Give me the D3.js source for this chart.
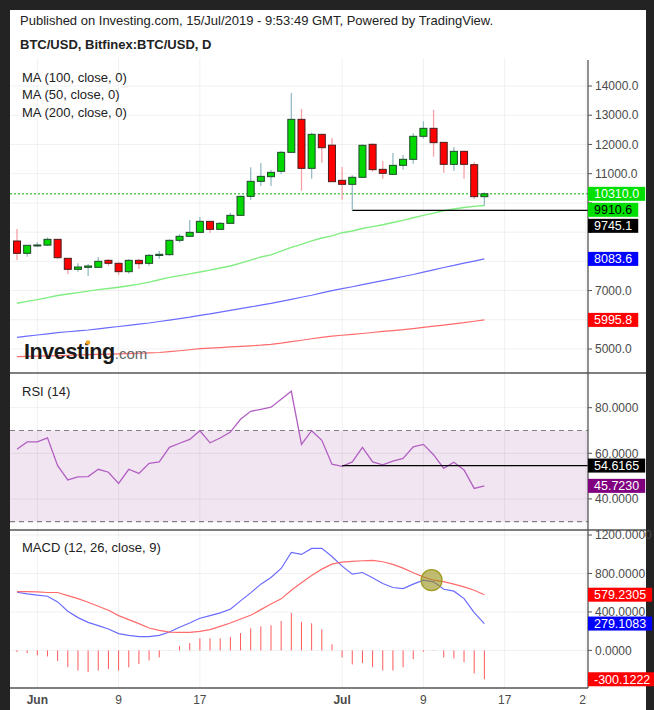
<!DOCTYPE html>
<html>
<head>
<meta charset="utf-8">
<script src="https://cdnjs.cloudflare.com/ajax/libs/d3/7.8.5/d3.min.js"></script>
<style>
  body { margin: 0; background: #232323; }
  text { font-family: "Liberation Sans", Arial, sans-serif; }
</style>
</head>
<body>
<div id="chart"></div>
<script>
// daily candles, Bitfinex BTC/USD
var dates = ["2019-05-30","2019-05-31","2019-06-01","2019-06-02","2019-06-03","2019-06-04","2019-06-05","2019-06-06",
  "2019-06-07","2019-06-08","2019-06-09","2019-06-10","2019-06-11","2019-06-12","2019-06-13","2019-06-14","2019-06-15",
  "2019-06-16","2019-06-17","2019-06-18","2019-06-19","2019-06-20","2019-06-21","2019-06-22","2019-06-23","2019-06-24",
  "2019-06-25","2019-06-26","2019-06-27","2019-06-28","2019-06-29","2019-06-30","2019-07-01","2019-07-02","2019-07-03",
  "2019-07-04","2019-07-05","2019-07-06","2019-07-07","2019-07-08","2019-07-09","2019-07-10","2019-07-11","2019-07-12",
  "2019-07-13","2019-07-14","2019-07-15"];
var open  = [8696,8274,8548,8555,8753,8103,7726,7795,7795,8034,7932,7646,8034,7932,8200,8228,8719,8856,8992,9368,9095,9300,9574,10224,10737,10897,11080,11730,12859,11182,12346,11975,10772,10635,10875,12004,11148,10977,11285,11491,12278,12551,12072,11319,11764,11308,10213];
var high  = [9107,8560,8650,8821,8760,8110,7932,7909,8148,8080,7966,8080,8080,8251,8354,8753,8935,9414,9517,9380,9346,9665,10247,11216,11365,11125,11787,13760,13213,12403,12350,12220,11228,10943,12004,12038,11434,11707,11639,12380,12791,13179,12080,11913,11790,11388,10361];
var low   = [8046,8160,8502,8525,8080,7567,7646,7498,7790,7852,7532,7578,7738,7852,8091,8194,8640,8840,8980,8981,9090,9290,9570,10098,10578,10578,10988,11720,10418,10829,11376,10720,10110,9745,10860,11069,10829,10970,11137,11342,12198,11582,11034,11103,10829,10133,9905];
var close = [8274,8548,8560,8753,8126,7726,7806,7840,8000,7932,7646,8034,7920,8205,8240,8719,8856,8992,9368,9095,9300,9574,10224,10737,10908,11045,11730,12859,11182,12346,11889,10726,10635,10875,11970,11137,11012,11285,11491,12278,12551,12061,11319,11764,11319,10213,10310];

var ma50  = [6564,6630,6690,6760,6830,6880,6930,6980,7030,7070,7115,7165,7220,7290,7370,7450,7510,7570,7635,7700,7770,7840,7940,8040,8150,8220,8350,8480,8580,8700,8800,8870,8980,9040,9125,9186,9250,9330,9400,9490,9575,9650,9730,9790,9840,9880,9910.6];
var ma100 = [5400,5440,5480,5520,5560,5590,5620,5650,5690,5730,5770,5810,5850,5890,5940,5990,6040,6090,6150,6200,6260,6320,6380,6440,6500,6560,6630,6700,6770,6840,6920,7000,7063,7130,7200,7270,7340,7410,7480,7550,7630,7710,7790,7860,7940,8010,8083.6];
var ma200 = [4737,4745,4755,4765,4775,4785,4795,4805,4815,4825,4835,4845,4855,4865,4880,4910,4940,4975,5011,5030,5050,5070,5090,5110,5130,5160,5200,5250,5300,5350,5400,5440,5470,5500,5530,5565,5600,5630,5660,5700,5740,5780,5820,5860,5900,5950,5995.8];

var rsi = [61.8,65.0,65.0,66.8,54.6,48.3,49.7,49.8,53.0,51.7,46.8,53.0,51.2,55.6,56.2,62.6,64.4,66.1,69.9,64.6,66.7,69.3,74.9,78.4,79.3,80.2,83.7,87.2,63.9,69.9,65.7,55.2,54.3,56.2,62.6,56.2,54.9,56.6,57.8,62.8,63.9,59.4,53.4,56.1,52.7,44.6,45.723];

var macd   = [605,588,574,563,504,407,341,292,257,223,174,157,143,143,157,191,240,285,334,362,390,428,515,598,689,758,852,1019,998,1061,1061,977,876,793,810,755,696,654,643,689,730,713,636,616,539,393,279.1];
var signal = [612,612,609,602,602,570,539,501,459,417,362,320,278,233,209,191,188,188,198,216,250,285,327,365,424,483,536,626,703,779,845,897,918,925,932,936,922,894,856,807,765,730,716,689,661,626,579.2];
var hist   = [-17,-28,-52,-63,-111,-174,-209,-226,-209,-195,-209,-177,-143,-104,-73,-3,45,77,125,125,125,139,181,230,250,261,306,390,296,282,219,63,-73,-146,-132,-174,-209,-209,-174,-90,-14,-4,-73,-83,-122,-240,-300.1];

var priceTicks = [5000,6000,7000,8000,9000,10000,11000,12000,13000,14000];
var rsiTicks = [40,60,80];
var macdTicks = [0,400,800,1200];
var dateTicks = ["2019-06-01","2019-06-09","2019-06-17","2019-07-01","2019-07-09","2019-07-17","2019-07-25"];
var dateTickLabels = ["Jun","9","17","Jul","9","17","25"];

var priceTags = [
  {v: 10310, label: "10310.0", bg: "#00e000", fg: "#fff"},
  {v: 9910.6, label: "9910.6", bg: "#00e000", fg: "#000"},
  {v: 9745.1, label: "9745.1", bg: "#000", fg: "#fff"},
  {v: 8083.6, label: "8083.6", bg: "#0000ff", fg: "#fff"},
  {v: 5995.8, label: "5995.8", bg: "#ff0000", fg: "#fff"}
];
var rsiTags = [
  {v: 54.6165, label: "54.6165", bg: "#000", fg: "#fff"},
  {v: 45.723, label: "45.7230", bg: "#800080", fg: "#fff"}
];
var macdTags = [
  {v: 579.2305, label: "579.2305", bg: "#ff0000", fg: "#fff"},
  {v: 279.1083, label: "279.1083", bg: "#0000ff", fg: "#fff"},
  {v: -300.1222, label: "-300.1222", bg: "#ff0000", fg: "#fff"}
];

var parse = d3.timeParse("%Y-%m-%d");
var candles = dates.map(function(d, i) {
  return {date: parse(d), o: open[i], h: high[i], l: low[i], c: close[i]};
});

var svgWidth = 654, svgHeight = 710;
var left = 10, axisX = 588;
var tagH = 14;

var svg = d3.select("#chart").append("svg")
  .attr("width", svgWidth).attr("height", svgHeight);

svg.append("rect").attr("width", svgWidth).attr("height", svgHeight).attr("fill", "#232323");
svg.append("rect").attr("x", left).attr("y", 10).attr("width", 636).attr("height", 700).attr("fill", "#fff");

svg.append("clipPath").attr("id", "plotclip").append("rect")
  .attr("x", left).attr("y", 10).attr("width", axisX - left).attr("height", 700);
svg.append("clipPath").attr("id", "dateclip").append("rect")
  .attr("x", left).attr("y", 690).attr("width", axisX - left - 1.5).attr("height", 20);

// scales
var x = d3.scaleTime()
  .domain([parse("2019-05-30"), parse("2019-07-25")])
  .range([17, 17 + 56 * 10.16]);
var yPrice = d3.scaleLinear().domain([5000, 14000]).range([349, 86]);
var yRsi = d3.scaleLinear().domain([30, 80]).range([521.7, 407.7]);
var yMacd = d3.scaleLinear().domain([0, 1200]).range([650.4, 535]);

var panels = [{top: 58, bottom: 373}, {top: 373, bottom: 530}, {top: 530, bottom: 688}];

var plot = svg.append("g").attr("clip-path", "url(#plotclip)");

// RSI band
plot.append("rect")
  .attr("x", left).attr("width", axisX - left)
  .attr("y", yRsi(70)).attr("height", yRsi(30) - yRsi(70))
  .attr("fill", "#f1e5f2");

// vertical grid
panels.forEach(function(p) {
  plot.selectAll(null).data(dateTicks).enter().append("line")
    .attr("x1", d => x(parse(d))).attr("x2", d => x(parse(d)))
    .attr("y1", p.top).attr("y2", p.bottom)
    .attr("stroke", "#000").attr("stroke-opacity", 0.06);
});

// horizontal grid
function hgrid(ticks, scale) {
  plot.selectAll(null).data(ticks).enter().append("line")
    .attr("x1", left).attr("x2", axisX)
    .attr("y1", d => scale(d)).attr("y2", d => scale(d))
    .attr("stroke", "#000").attr("stroke-opacity", 0.06);
}
hgrid(priceTicks, yPrice);
hgrid(rsiTicks, yRsi);
hgrid(macdTicks, yMacd);

// RSI dashed bounds
[70, 30].forEach(function(v) {
  plot.append("line")
    .attr("x1", left).attr("x2", axisX)
    .attr("y1", yRsi(v)).attr("y2", yRsi(v))
    .attr("stroke", "#808080").attr("stroke-width", 1.2).attr("stroke-dasharray", "5,4");
});

// moving averages
function addLine(values, scale, color, width) {
  var line = d3.line().x((d, i) => x(candles[i].date)).y(d => scale(d));
  plot.append("path").datum(values)
    .attr("d", line).attr("fill", "none")
    .attr("stroke", color).attr("stroke-width", width || 1.2);
}
addLine(ma50, yPrice, "#80ee80", 1.4);
addLine(ma100, yPrice, "#6b6bff", 1.2);
addLine(ma200, yPrice, "#ff6b6b", 1.2);

// last price dotted line
plot.append("line")
  .attr("x1", left).attr("x2", axisX)
  .attr("y1", yPrice(10310)).attr("y2", yPrice(10310))
  .attr("stroke", "#00b400").attr("stroke-dasharray", "2,2");

// support line at the Jul 2 low
plot.append("line")
  .attr("x1", x(candles[33].date)).attr("x2", axisX)
  .attr("y1", yPrice(9745.1)).attr("y2", yPrice(9745.1))
  .attr("stroke", "#000").attr("stroke-width", 1.3);

// candles
var cg = plot.append("g");
cg.selectAll("line.wick").data(candles).enter().append("line")
  .attr("x1", d => x(d.date)).attr("x2", d => x(d.date))
  .attr("y1", d => yPrice(d.h)).attr("y2", d => yPrice(d.l))
  .attr("stroke", d => d.c >= d.o ? "#96bcc4" : "#f5a0a8").attr("stroke-width", 1.3);
cg.selectAll("rect").data(candles).enter().append("rect")
  .attr("x", d => x(d.date) - 3.5).attr("width", 7)
  .attr("y", d => yPrice(Math.max(d.o, d.c)))
  .attr("height", d => Math.max(1, Math.abs(yPrice(d.o) - yPrice(d.c))))
  .attr("fill", d => d.c >= d.o ? "#00d800" : "#ff0000")
  .attr("stroke", d => d.c >= d.o ? "#1f4a2c" : "#4a1e1e").attr("stroke-width", 1);

// RSI line
addLine(rsi, yRsi, "#b25fc2", 1.3);
plot.append("line")
  .attr("x1", x(candles[32].date)).attr("x2", axisX)
  .attr("y1", yRsi(54.6165)).attr("y2", yRsi(54.6165))
  .attr("stroke", "#000").attr("stroke-width", 1.3);

// MACD histogram
plot.selectAll("line.hist").data(hist).enter().append("line")
  .attr("x1", (d, i) => x(candles[i].date)).attr("x2", (d, i) => x(candles[i].date))
  .attr("y1", yMacd(0)).attr("y2", d => yMacd(d))
  .attr("stroke", "#ff5a5a").attr("stroke-width", 1);
addLine(macd, yMacd, "#6b6bff", 1.2);
addLine(signal, yMacd, "#ff6b6b", 1.2);

// highlighted crossover
plot.append("circle")
  .attr("cx", x(candles[41].date) - 2).attr("cy", yMacd(730))
  .attr("r", 10.5)
  .attr("fill", "rgb(150,145,20)").attr("fill-opacity", 0.6)
  .attr("stroke", "#a09a20").attr("stroke-width", 1.2);

// panel separators and axis lines
[373, 530].forEach(function(y) {
  svg.append("line").attr("x1", left).attr("x2", 646).attr("y1", y).attr("y2", y)
    .attr("stroke", "#555").attr("stroke-width", 1.3);
});
svg.append("line").attr("x1", left).attr("x2", axisX).attr("y1", 688).attr("y2", 688)
  .attr("stroke", "#555").attr("stroke-width", 1.3);
svg.append("line").attr("x1", axisX).attr("x2", axisX).attr("y1", 60).attr("y2", 688)
  .attr("stroke", "#555").attr("stroke-width", 1.3);

// stack tags downward when they collide
function placeTags(list, scale) {
  list.sort((a, b) => b.v - a.v);
  var prev = -1e9;
  list.forEach(function(t) {
    t.y = Math.max(scale(t.v), prev + 16);
    prev = t.y;
  });
  return list;
}
placeTags(priceTags, yPrice);
placeTags(rsiTags, yRsi);
placeTags(macdTags, yMacd);

// right axis ticks; labels hidden where a tag covers them
function rightAxis(ticks, scale, fmt, tagList) {
  var g = svg.append("g");
  g.selectAll("line").data(ticks).enter().append("line")
    .attr("x1", axisX).attr("x2", axisX + 4)
    .attr("y1", d => scale(d)).attr("y2", d => scale(d))
    .attr("stroke", "#555");
  var shown = ticks.filter(d => tagList.every(t => Math.abs(t.y - scale(d)) > 9));
  g.selectAll("text").data(shown).enter().append("text")
    .attr("x", 595).attr("y", d => scale(d)).attr("dy", "0.35em")
    .attr("font-size", 12).attr("fill", "#4a4a4a")
    .text(d => fmt(d));
}
rightAxis(priceTicks, yPrice, d3.format(".1f"), priceTags);
rightAxis(rsiTicks, yRsi, d3.format(".4f"), rsiTags);
rightAxis(macdTicks, yMacd, d3.format(".4f"), macdTags);

function drawTags(list) {
  list.forEach(function(t) {
    var g = svg.append("g");
    var r = g.append("rect").attr("x", axisX).attr("y", t.y - tagH / 2).attr("height", tagH).attr("fill", t.bg);
    var tx = g.append("text").attr("x", 594).attr("y", t.y).attr("dy", "0.35em")
      .attr("font-size", 12.5).attr("fill", t.fg).text(t.label);
    r.attr("width", tx.node().getComputedTextLength() + 12);
  });
}
drawTags(priceTags);
drawTags(rsiTags);
drawTags(macdTags);

// date axis
svg.append("g").attr("clip-path", "url(#dateclip)")
  .selectAll("text").data(dateTicks).enter().append("text")
  .attr("x", d => x(parse(d))).attr("y", 704)
  .attr("text-anchor", "middle").attr("font-size", 12).attr("fill", "#4a4a4a")
  .attr("font-weight", (d, i) => isNaN(+dateTickLabels[i]) ? "bold" : "normal")
  .text((d, i) => dateTickLabels[i]);

// header and legends
svg.append("text").attr("x", 20).attr("y", 25).attr("font-size", 13).attr("fill", "#222")
  .text("Published on Investing.com, 15/Jul/2019 - 9:53:49 GMT, Powered by TradingView.");
svg.append("text").attr("x", 20).attr("y", 49).attr("font-size", 13).attr("font-weight", "bold").attr("fill", "#222")
  .text("BTC/USD, Bitfinex:BTC/USD, D");

["MA (100, close, 0)", "MA (50, close, 0)", "MA (200, close, 0)"].forEach(function(t, i) {
  svg.append("text").attr("x", 22).attr("y", 82 + i * 17.3).attr("font-size", 13).attr("fill", "#222").text(t);
});
svg.append("text").attr("x", 22).attr("y", 396).attr("font-size", 13).attr("fill", "#222").text("RSI (14)");
svg.append("text").attr("x", 22).attr("y", 552).attr("font-size", 13).attr("fill", "#222").text("MACD (12, 26, close, 9)");

// watermark logo
var logo = svg.append("text").attr("x", 24).attr("y", 359);
logo.append("tspan").attr("font-size", 21.5).attr("font-weight", "bold").attr("letter-spacing", -0.4)
  .attr("fill", "#1a1a1a").text("Investing");
logo.append("tspan").attr("font-size", 15).attr("fill", "#666").text(".com");
svg.append("circle").attr("cx", 88).attr("cy", 342.5).attr("r", 2.2).attr("fill", "#f5a623");
</script>
</body>
</html>
